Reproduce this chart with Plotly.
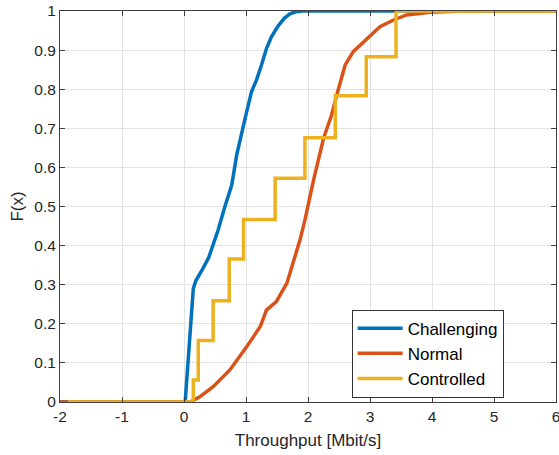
import plotly.graph_objects as go

# ---- data ----
challenging_x = [-2, 0.0, 0.02, 0.06, 0.10, 0.15, 0.19, 0.24, 0.30, 0.40, 0.47, 0.55, 0.66, 0.77,
                 0.85, 0.93, 1.01, 1.09, 1.17, 1.25, 1.33, 1.41, 1.52, 1.62, 1.71, 1.80, 1.92, 2.10, 6]
challenging_y = [0, 0.0, 0.003, 0.10, 0.20, 0.29, 0.31, 0.322, 0.34, 0.37, 0.40, 0.44, 0.50, 0.555,
                 0.632, 0.691, 0.742, 0.794, 0.824, 0.862, 0.904, 0.934, 0.962, 0.982, 0.993, 0.998, 1.0, 1.0, 1.0]

normal_x = [-2, 0.10, 0.15, 0.26, 0.47, 0.74, 1.01, 1.23, 1.33, 1.49, 1.66, 1.76, 1.87, 1.95, 2.03,
            2.09, 2.25, 2.38, 2.49, 2.60, 2.73, 2.95, 3.16, 3.38, 3.59, 3.97, 4.5, 6]
normal_y = [0, 0.0, 0.004, 0.014, 0.039, 0.082, 0.141, 0.193, 0.235, 0.257, 0.304, 0.355, 0.414, 0.465, 0.525,
            0.568, 0.674, 0.734, 0.80, 0.862, 0.896, 0.930, 0.960, 0.977, 0.990, 0.997, 1.0, 1.0]

controlled_x = [-1.87, 0.15, 0.23, 0.47, 0.73, 0.96, 1.47, 1.95, 2.44, 2.94, 3.42, 6]
controlled_y = [0, 0.056, 0.157, 0.259, 0.366, 0.467, 0.572, 0.676, 0.783, 0.883, 1.0, 1.0]

x_ticks = [-2, -1, 0, 1, 2, 3, 4, 5, 6]
x_tick_labels = ["-2", "-1", "0", "1", "2", "3", "4", "5", "6"]
y_ticks = [0, 0.1, 0.2, 0.3, 0.4, 0.5, 0.6, 0.7, 0.8, 0.9, 1]
y_tick_labels = ["0", "0.1", "0.2", "0.3", "0.4", "0.5", "0.6", "0.7", "0.8", "0.9", "1"]

FONT = "Arial, Liberation Sans, Helvetica, sans-serif"
TXT = "#262626"

fig = go.Figure()
fig.add_trace(go.Scatter(x=challenging_x, y=challenging_y, mode="lines", name="Challenging",
                         line=dict(color="#0072BD", width=3.5)))
fig.add_trace(go.Scatter(x=normal_x, y=normal_y, mode="lines", name="Normal",
                         line=dict(color="#D95319", width=3.5)))
fig.add_trace(go.Scatter(x=controlled_x, y=controlled_y, mode="lines", name="Controlled",
                         line=dict(color="#EDB120", width=3.5, shape="hv")))

axis_common = dict(showgrid=True, gridcolor="#e3e3e3", gridwidth=1,
                   showline=True, linecolor="#404040", linewidth=1, mirror="ticks",
                   ticks="inside", ticklen=5, tickcolor="#404040", zeroline=False,
                   automargin=False, ticklabeloverflow="allow",
                   tickfont=dict(family=FONT, size=15.5, color=TXT))

fig.update_xaxes(range=[-2, 6], tickvals=x_ticks, ticktext=x_tick_labels,
                 title=dict(text="Throughput [Mbit/s]", font=dict(family=FONT, size=17, color=TXT), standoff=10),
                 **axis_common)
fig.update_yaxes(range=[0, 1], tickvals=y_ticks, ticktext=y_tick_labels,
                 title=dict(text="F(x)", font=dict(family=FONT, size=17, color=TXT), standoff=6),
                 **axis_common)

fig.update_layout(
    width=559, height=455,
    margin=dict(l=60, r=3, t=11, b=53),
    paper_bgcolor="white", plot_bgcolor="white",
    font=dict(family=FONT, color=TXT),
    legend=dict(x=0.588, y=0.236, xanchor="left", yanchor="top",
                bgcolor="white", bordercolor="#333333", borderwidth=1,
                font=dict(family=FONT, size=17, color="black"),
                itemwidth=45, tracegroupgap=0),
)

fig.write_html("out.html", config={"displayModeBar": False},
               post_script="document.body.style.margin='0px';document.body.style.overflow='hidden';")
